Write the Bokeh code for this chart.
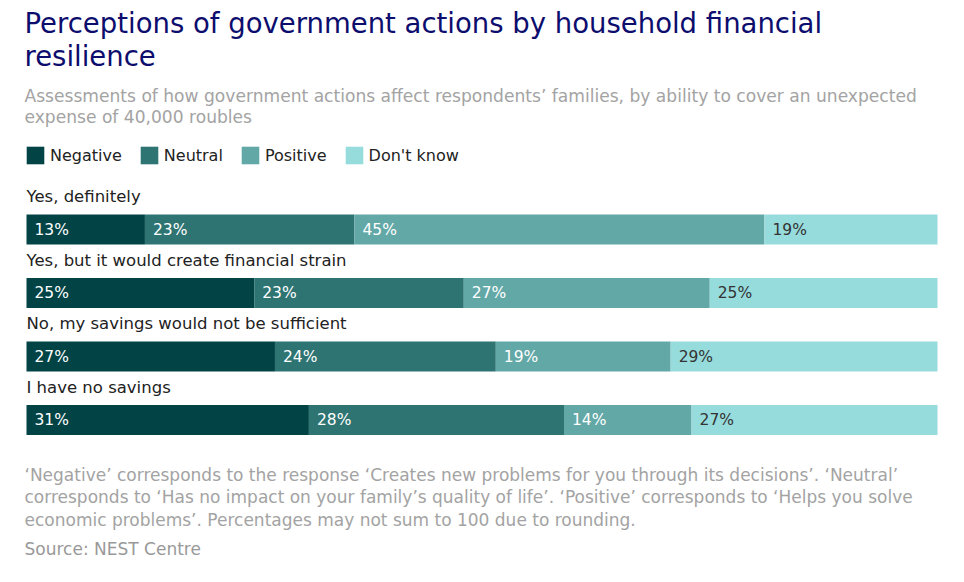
from bokeh.plotting import figure
from bokeh.models import ColumnDataSource, Range1d, Label
from bokeh.embed import file_html
from bokeh.resources import INLINE
from bokeh.core.properties import value

# ---------------- data ----------------
categories = [
    "Yes, definitely",
    "Yes, but it would create financial strain",
    "No, my savings would not be sufficient",
    "I have no savings",
]
responses = ["Negative", "Neutral", "Positive", "Don't know"]
negative = [13, 25, 27, 31]
neutral = [23, 23, 24, 28]
positive = [45, 27, 19, 14]
dont_know = [19, 25, 29, 27]

colors = ["#024446", "#2d7472", "#62a8a7", "#97dcdc"]
label_colors = ["#ffffff", "#ffffff", "#ffffff", "#333333"]

title_lines = ["Perceptions of government actions by household financial", "resilience"]
subtitle_lines = [
    "Assessments of how government actions affect respondents\u2019 families, by ability to cover an unexpected",
    "expense of 40,000 roubles",
]
note_lines = [
    "\u2018Negative\u2019 corresponds to the response \u2018Creates new problems for you through its decisions\u2019. \u2018Neutral\u2019",
    "corresponds to \u2018Has no impact on your family\u2019s quality of life\u2019. \u2018Positive\u2019 corresponds to \u2018Helps you solve",
    "economic problems\u2019. Percentages may not sum to 100 due to rounding.",
]
source_text = "Source: NEST Centre"

# ---------------- layout constants ----------------
W, H = 960, 578
OFF = 0
BAR_LEFT, BAR_W = 26, 911       # canvas px
ROW0, PITCH = 229, 63.5         # canvas px of first bar centre, row pitch
BAR_H_PX = 30
FONT = "DejaVu Sans"

def xd(page_x):
    return (page_x - OFF - BAR_LEFT) / BAR_W * 100

def yd(page_y):
    return (page_y - OFF - ROW0) / PITCH

series = [negative, neutral, positive, dont_know]
keys = ["neg", "neu", "pos", "dk"]
rows = list(range(len(categories)))
totals = [sum(s[i] for s in series) for i in rows]

data = {"row": rows}
for k, s in zip(keys, series):
    data[k] = [s[i] / totals[i] * 100 for i in rows]
src = ColumnDataSource(data)

p = figure(
    width=W, height=H,
    x_range=Range1d(-BAR_LEFT / BAR_W * 100, (W - BAR_LEFT) / BAR_W * 100),
    y_range=Range1d((H - ROW0) / PITCH, -ROW0 / PITCH),
    x_axis_type=None, y_axis_type=None,
    output_backend="svg", toolbar_location=None,
    min_border=0, outline_line_color=None,
)
p.grid.visible = False
p.background_fill_color = "white"
p.border_fill_color = "white"

p.hbar_stack(keys, y="row", height=BAR_H_PX / PITCH, color=colors, line_color=None,
             source=src, legend_label=responses)

# segment labels
lx, ly, lt, lc = [], [], [], []
for i in rows:
    cum = 0.0
    for j, (k, s) in enumerate(zip(keys, series)):
        lx.append(cum)
        ly.append(i)
        lt.append(f"{s[i]}%")
        lc.append(label_colors[j])
        cum += data[k][i]
lsrc = ColumnDataSource(dict(x=lx, y=ly, text=lt, color=lc))
p.text(x="x", y="y", text="text", source=lsrc, text_color="color", x_offset=8,
       text_baseline="middle", text_align="left", text_font=value(FONT),
       text_font_size="15.5px")

# category labels
csrc = ColumnDataSource(dict(x=[0] * len(rows), y=[r - 33 / PITCH for r in rows], text=categories))
p.text(x="x", y="y", text="text", source=csrc, text_color="#222222",
       text_baseline="middle", text_align="left", text_font=value(FONT),
       text_font_size="16.5px")

def add_label(txt, page_x, page_y, size, color):
    p.add_layout(Label(x=xd(page_x), y=yd(page_y), text=txt, text_font=FONT,
                       text_font_size=size, text_color=color, text_baseline="middle",
                       text_align="left"))

for t, yy in zip(title_lines, [22, 55]):
    add_label(t, 24, yy, "27.5px", "#0d0d6e")
for t, yy in zip(subtitle_lines, [95, 116]):
    add_label(t, 24, yy, "17.1px", "#a3a3a3")
for t, yy in zip(note_lines, [474, 496, 519]):
    add_label(t, 24, yy, "17px", "#a3a3a3")
add_label(source_text, 24, 548, "17px", "#999999")

lg = p.legend[0]
lg.orientation = "horizontal"
lg.location = (24, H - 166)
lg.glyph_width = 22
lg.glyph_height = 22
lg.label_standoff = 4
lg.spacing = 16
lg.padding = 0
lg.margin = 0
lg.border_line_color = None
lg.background_fill_alpha = 0
lg.label_text_font = FONT
lg.label_text_font_size = "16px"
lg.label_text_color = "#222222"
lg.label_height = 22

open("out.html", "w").write(file_html(p, INLINE))
